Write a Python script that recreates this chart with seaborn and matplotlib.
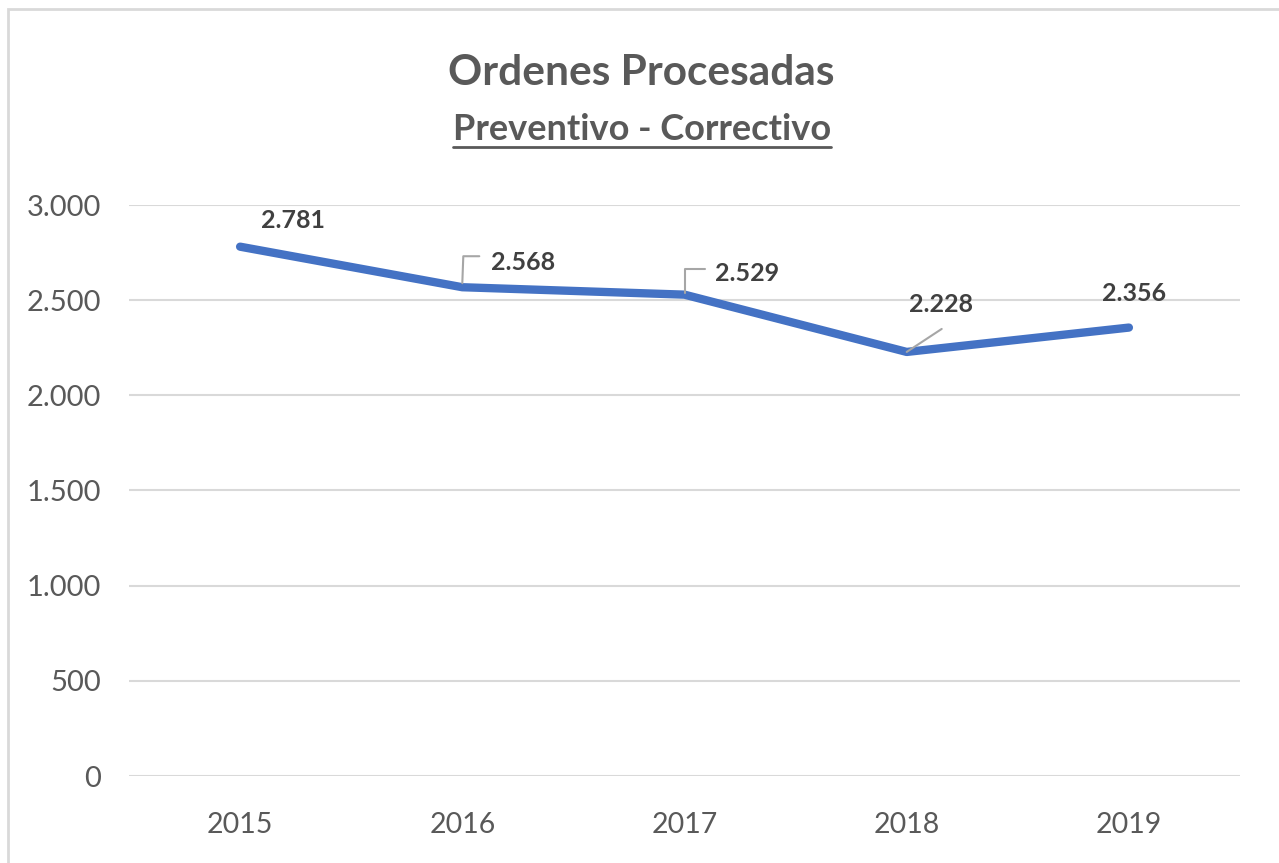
import matplotlib
matplotlib.use("Agg")
import matplotlib.pyplot as plt
import matplotlib.transforms as mtransforms
from matplotlib.lines import Line2D
from matplotlib.patches import Rectangle
import seaborn as sns
import pandas as pd

years = ["2015", "2016", "2017", "2018", "2019"]
ordenes = [2781, 2568, 2529, 2228, 2356]
y_ticks = [0, 500, 1000, 1500, 2000, 2500, 3000]
title = "Ordenes Procesadas"
subtitle = "Preventivo - Correctivo"

sns.set_theme(style="white")
plt.rcParams["font.family"] = ["Lato", "DejaVu Sans"]

W, H = 1279, 863
fig = plt.figure(figsize=(W / 100, H / 100), dpi=100)
ax = fig.add_axes([129 / W, 1 - 776 / H, (1240 - 129) / W, (776 - 205) / H])

df = pd.DataFrame({"Año": years, "Ordenes": ordenes})
sns.lineplot(data=df, x="Año", y="Ordenes", ax=ax, color="#4472C4",
             linewidth=6, sort=False, solid_capstyle="round", solid_joinstyle="round",
             zorder=3)

ax.set_xlim(-0.5, len(years) - 0.5)
ax.set_ylim(0, 3000)
ax.set_yticks(y_ticks)
ax.set_yticklabels([f"{v:,}".replace(",", ".") for v in y_ticks])
ax.yaxis.grid(True, color="#d9d9d9", linewidth=1.5)
ax.xaxis.grid(False)
for s in ax.spines.values():
    s.set_visible(False)
ax.tick_params(axis="y", length=0, pad=20, labelsize=21, labelcolor="#595959")
ax.tick_params(axis="x", length=0, pad=26, labelsize=20.5, labelcolor="#595959")
ax.set_xlabel("")
ax.set_ylabel("")

# data labels (offsets in pixels from point) and leader lines
label_offsets = [(53, 26), (61, 25), (63, 21), (34, 47), (5, 34)]
leaders = [None,
           [(0, 4), (1, 31), (17, 31)],
           [(0, 2), (0, 26), (20, 26)],
           [(0, 0), (35, 23)],
           None]
for i, (yr, v) in enumerate(zip(years, ordenes)):
    dx, dy = label_offsets[i]
    ax.annotate(f"{v:,}".replace(",", "."), xy=(i, v), xytext=(dx, dy),
                textcoords="offset pixels", ha="center", va="center",
                fontsize=18, fontweight="bold", color="#404040", zorder=5)
    if leaders[i] is not None:
        tr = mtransforms.Affine2D() + mtransforms.ScaledTranslation(i, v, ax.transData)
        xs = [p[0] for p in leaders[i]]
        ys = [p[1] for p in leaders[i]]
        ln = Line2D(xs, ys, transform=tr, color="#a6a6a6", linewidth=1.5, zorder=4)
        ax.add_line(ln)

fig.text(641 / W, 1 - 85 / H, title, ha="center", va="baseline",
         fontsize=30.5, fontweight="bold", color="#595959")
sub = fig.text(642 / W, 1 - 140 / H, subtitle, ha="center", va="baseline",
               fontsize=26, fontweight="bold", color="#595959")
fig.canvas.draw()
bb = sub.get_window_extent()
fig.add_artist(Line2D([bb.x0 / W, bb.x1 / W], [1 - 147 / H, 1 - 147 / H],
                      transform=fig.transFigure, color="#595959", linewidth=2))

fig.add_artist(Rectangle((8 / W, -0.02), 1.0, 1 - 9 / H + 0.02, transform=fig.transFigure,
                         fill=False, edgecolor="#d9d9d9", linewidth=2))

fig.savefig("out.png", dpi=100, facecolor="white")
